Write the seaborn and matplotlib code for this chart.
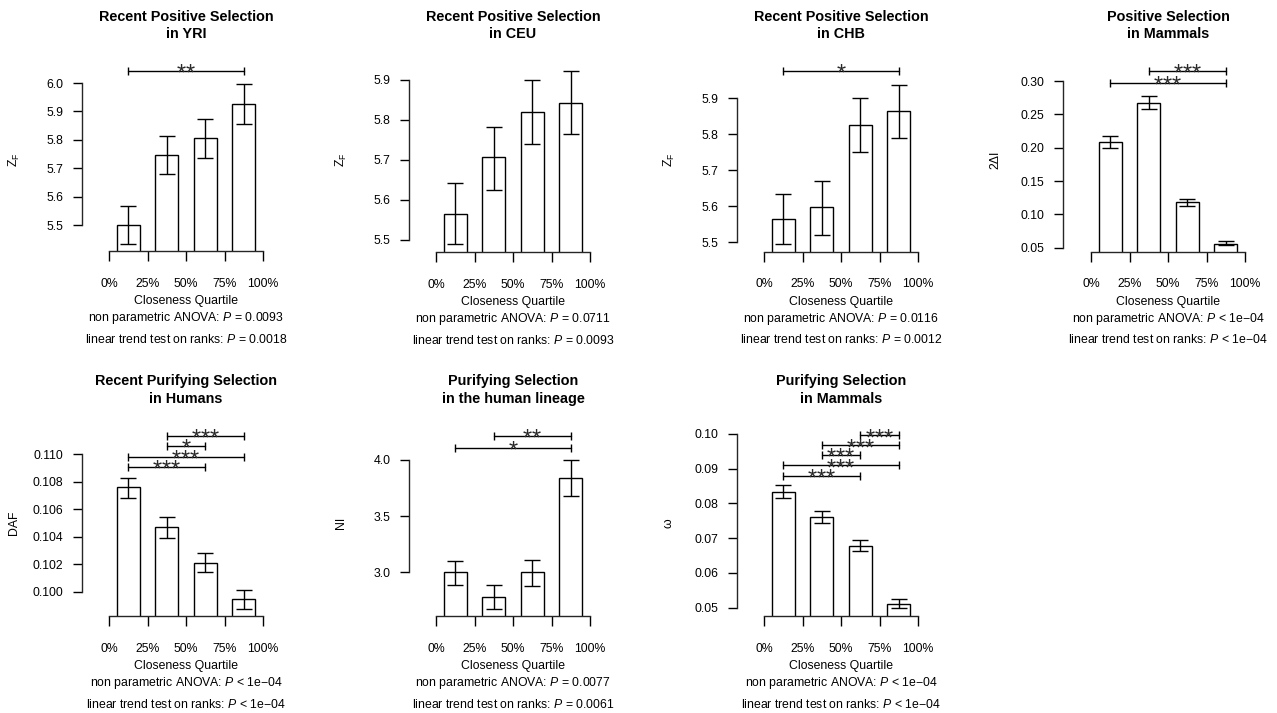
import numpy as np
import pandas as pd
import matplotlib
matplotlib.use("Agg")
import matplotlib.pyplot as plt
import seaborn as sns

# ---------------- data ----------------
cats = ["Q1", "Q2", "Q3", "Q4"]
quart_labels = ["0%", "25%", "50%", "75%", "100%"]

yri_mean = [5.500, 5.746, 5.805, 5.927]
yri_lo = [5.432, 5.679, 5.737, 5.855]
yri_hi = [5.567, 5.813, 5.873, 5.995]

ceu_mean = [5.564, 5.707, 5.819, 5.843]
ceu_lo = [5.489, 5.624, 5.741, 5.766]
ceu_hi = [5.643, 5.783, 5.900, 5.922]

chb_mean = [5.565, 5.598, 5.826, 5.866]
chb_lo = [5.494, 5.521, 5.752, 5.789]
chb_hi = [5.635, 5.671, 5.901, 5.938]

mampos_mean = [0.2080, 0.2675, 0.1185, 0.0560]
mampos_lo = [0.1990, 0.2580, 0.1125, 0.0535]
mampos_hi = [0.2176, 0.2780, 0.1235, 0.0605]

daf_mean = [0.10760, 0.10473, 0.10211, 0.09947]
daf_lo = [0.10685, 0.10393, 0.10141, 0.09876]
daf_hi = [0.10830, 0.10544, 0.10279, 0.10015]

ni_mean = [3.000, 2.783, 3.000, 3.843]
ni_lo = [2.887, 2.677, 2.878, 3.680]
ni_hi = [3.103, 2.887, 3.110, 4.003]

omega_mean = [0.0833, 0.0761, 0.0678, 0.0511]
omega_lo = [0.0816, 0.0743, 0.0662, 0.0498]
omega_hi = [0.0853, 0.0778, 0.0695, 0.0525]

# significance brackets: (from bar, to bar, level, number of stars)
yri_sig = [(0, 3, 6.043, 2)]
ceu_sig = []
chb_sig = [(0, 3, 5.977, 1)]
mampos_sig = [(1, 3, 0.315, 3), (0, 3, 0.2975, 3)]
daf_sig = [(1, 3, 0.11133, 3), (1, 2, 0.1106, 1),
           (0, 3, 0.10983, 3), (0, 2, 0.1091, 3)]
ni_sig = [(1, 3, 4.214, 2), (0, 3, 4.11, 1)]
omega_sig = [(2, 3, 0.0996, 3), (1, 3, 0.0967, 3), (1, 2, 0.0939, 3),
             (0, 3, 0.0910, 3), (0, 2, 0.0880, 3)]

titles = ["Recent Positive Selection\nin YRI", "Recent Positive Selection\nin CEU",
          "Recent Positive Selection\nin CHB", "Positive Selection\nin Mammals",
          "Recent Purifying Selection\nin Humans", "Purifying Selection\nin the human lineage",
          "Purifying Selection\nin Mammals"]
ylabels = [r"$\mathrm{Z_F}$", r"$\mathrm{Z_F}$", r"$\mathrm{Z_F}$", "2ΔI", "DAF", "NI", "ω"]
anova_p = ["= 0.0093", "= 0.0711", "= 0.0116", "< 1e\u221204", "< 1e\u221204", "= 0.0077", "< 1e\u221204"]
trend_p = ["= 0.0018", "= 0.0093", "= 0.0012", "< 1e\u221204", "< 1e\u221204", "= 0.0061", "< 1e\u221204"]

yticks = [
    [5.5, 5.6, 5.7, 5.8, 5.9, 6.0],
    [5.5, 5.6, 5.7, 5.8, 5.9],
    [5.5, 5.6, 5.7, 5.8, 5.9],
    [0.05, 0.10, 0.15, 0.20, 0.25, 0.30],
    [0.100, 0.102, 0.104, 0.106, 0.108, 0.110],
    [3.0, 3.5, 4.0],
    [0.05, 0.06, 0.07, 0.08, 0.09, 0.10],
]
yfmt = ["%.1f", "%.1f", "%.1f", "%.2f", "%.3f", "%.1f", "%.2f"]

means = [yri_mean, ceu_mean, chb_mean, mampos_mean, daf_mean, ni_mean, omega_mean]
los = [yri_lo, ceu_lo, chb_lo, mampos_lo, daf_lo, ni_lo, omega_lo]
his = [yri_hi, ceu_hi, chb_hi, mampos_hi, daf_hi, ni_hi, omega_hi]
sigs = [yri_sig, ceu_sig, chb_sig, mampos_sig, daf_sig, ni_sig, omega_sig]

# ---------------- layout (pixels) ----------------
W, H = 1277, 713
# y-axis x, x-axis start, x-axis end, x-axis y, (tick lo px), (tick hi px), axes top
layout = [
    (82, 109, 263, 251.0, 225.0, 83.0, 55),
    (409, 436, 590, 252.0, 240.0, 80.0, 55),
    (737, 764, 918, 251.7, 242.3, 98.3, 55),
    (1063, 1091, 1245, 251.7, 247.7, 81.0, 55),
    (82, 109, 263, 616.0, 591.7, 454.3, 420),
    (409, 436, 590, 616.0, 572.3, 460.0, 420),
    (737, 764, 918, 616.0, 607.7, 434.0, 420),
]

sns.set_theme(style="ticks")
plt.rcParams["font.family"] = ["Liberation Sans", "DejaVu Sans"]
plt.rcParams["mathtext.fontset"] = "custom"
plt.rcParams["mathtext.rm"] = "Liberation Sans"
plt.rcParams["mathtext.it"] = "Liberation Sans:italic"
plt.rcParams["axes.linewidth"] = 1.0

FS = 8.8
fig = plt.figure(figsize=(W / 100, H / 100), dpi=100)
fig.patch.set_facecolor("white")


def star_text(n):
    # braces keep mathtext from spacing the asterisks as binary operators
    return "$\\mathrm{" + "".join(["{*}"] * n) + "}$"


for k in range(7):
    yax, x0, x1, yb, tlo_px, thi_px, top = layout[k]
    tl = yticks[k]
    t_lo, t_hi = tl[0], tl[-1]
    ax = fig.add_axes([yax / W, 1 - yb / H, (x1 - yax) / W, (yb - top) / H])
    df = pd.DataFrame({"q": cats, "v": means[k]})
    sns.barplot(data=df, x="q", y="v", order=cats, color="white", saturation=1,
                edgecolor="black", linewidth=1.0, width=0.6, errorbar=None, ax=ax)
    m = np.array(means[k]); lo = np.array(los[k]); hi = np.array(his[k])
    ax.errorbar(np.arange(4), m, yerr=[m - lo, hi - m], fmt="none", ecolor="black",
                elinewidth=1.0, capsize=5.8, capthick=1.0, zorder=5)
    # scales
    ux = 4.0 / (x1 - x0)
    ax.set_xlim(-0.5 - (x0 - yax) * ux, 3.5)
    uy = (t_hi - t_lo) / (tlo_px - thi_px)
    ax.set_ylim(t_lo - (yb - tlo_px) * uy, t_hi + (thi_px - top) * uy)
    # axes styling
    for s in ["top", "right"]:
        ax.spines[s].set_visible(False)
    ax.spines["left"].set_bounds(t_lo, t_hi)
    ax.spines["bottom"].set_bounds(-0.5, 3.5)
    ax.set_yticks(tl)
    ax.set_yticklabels([yfmt[k] % t for t in tl])
    ax.set_xticks(np.arange(-0.5, 4.0, 1.0))
    ax.set_xticklabels(quart_labels)
    ax.tick_params(axis="y", length=6.5, width=1.0, pad=7, labelsize=FS, colors="black")
    ax.tick_params(axis="x", length=7.2, width=1.0, pad=12, labelsize=FS, colors="black")
    ax.set_facecolor("none")
    # labels
    ax.set_xlabel("Closeness Quartile", fontsize=FS, color="black")
    ax.xaxis.set_label_coords(((x0 + x1) / 2 - yax) / (x1 - yax), -50 / (yb - top))
    ax.xaxis.label.set_va("center")
    ax.set_ylabel(ylabels[k], fontsize=FS, color="black")
    row_mid = 160 if k < 4 else 523
    ax.yaxis.set_label_coords(-68 / (x1 - yax), (yb - row_mid) / (yb - top))
    ax.yaxis.label.set_va("center")
    # significance brackets
    for (i, j, lev, nst) in sigs[k]:
        ax.plot([i, j], [lev, lev], color="black", lw=1.0, clip_on=False, zorder=6)
        ax.plot([i, j], [lev, lev], ls="none", marker="|", ms=5.5, mew=1.0,
                color="black", clip_on=False, zorder=6)
        ax.annotate(star_text(nst), xy=((i + j) / 2, lev), xytext=(0, -2.0),
                    textcoords="offset points", ha="center", va="center",
                    fontsize=17, color="#2a2a2a", annotation_clip=False, zorder=7)
    # title and p-values
    cx = (x0 + x1) / 2
    ty = 25.5 if k < 4 else 390
    fig.text(cx / W, 1 - ty / H, titles[k], ha="center", va="center",
             fontsize=10.4, fontweight="bold", linespacing=1.3, color="black")
    fig.text(cx / W, 1 - (yb + 67) / H, "non parametric ANOVA: $\\mathit{P}$ " + anova_p[k],
             ha="center", va="center", fontsize=FS, color="black")
    fig.text(cx / W, 1 - (yb + 88) / H, "linear trend test on ranks: $\\mathit{P}$ " + trend_p[k],
             ha="center", va="center", fontsize=FS, color="black")

fig.savefig("out.png", dpi=100, facecolor="white")
